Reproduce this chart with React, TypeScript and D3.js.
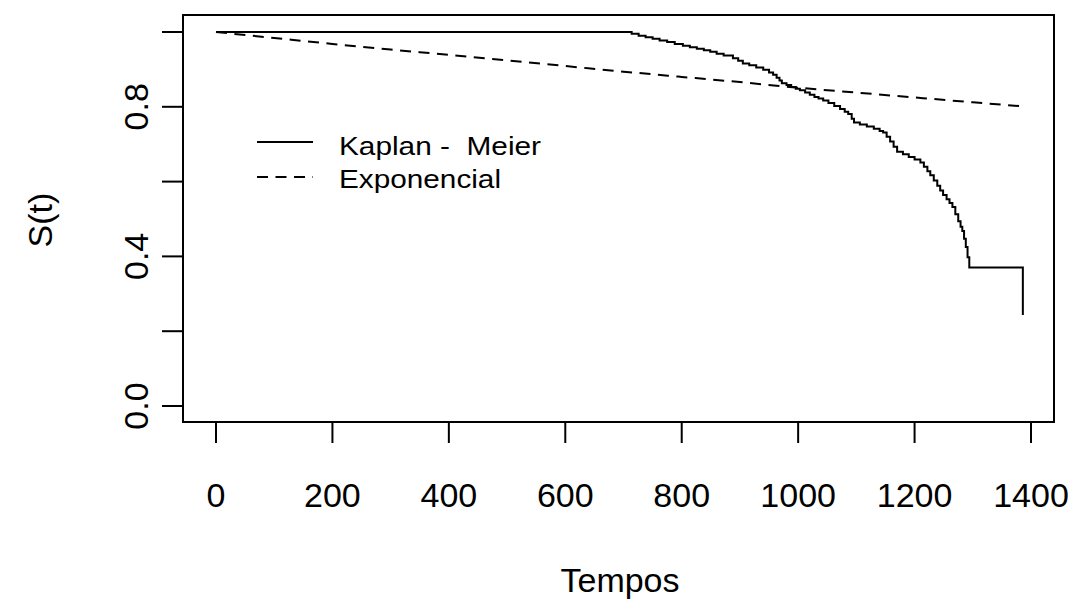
import React from "react";
import * as d3 from "d3";

const kmTimes = [0, 714, 726, 738, 750, 762, 775, 788, 802, 814, 826, 838, 849, 860, 872, 888, 897, 905, 916, 928, 940, 950, 957, 963, 968, 972, 980, 988, 996, 1003, 1012, 1020, 1028, 1035, 1043, 1052, 1062, 1072, 1080, 1086, 1092, 1096, 1106, 1118, 1130, 1140, 1146, 1152, 1158, 1164, 1170, 1180, 1190, 1200, 1210, 1216, 1222, 1227, 1233, 1239, 1244, 1249, 1255, 1260, 1265, 1270, 1275, 1279, 1282, 1285, 1288, 1291, 1294, 1386];
const kmSurv = [1.0, 0.995, 0.990, 0.986, 0.982, 0.977, 0.973, 0.968, 0.963, 0.959, 0.955, 0.951, 0.947, 0.942, 0.937, 0.930, 0.923, 0.916, 0.911, 0.905, 0.899, 0.892, 0.886, 0.878, 0.870, 0.863, 0.858, 0.853, 0.848, 0.844, 0.838, 0.832, 0.826, 0.822, 0.817, 0.810, 0.802, 0.794, 0.787, 0.781, 0.768, 0.758, 0.753, 0.747, 0.741, 0.735, 0.731, 0.720, 0.707, 0.693, 0.680, 0.673, 0.666, 0.659, 0.651, 0.640, 0.628, 0.617, 0.603, 0.589, 0.576, 0.564, 0.553, 0.543, 0.532, 0.513, 0.494, 0.479, 0.468, 0.447, 0.425, 0.398, 0.370, 0.243];

const expTimes = [0, 100, 200, 300, 400, 500, 600, 700, 800, 900, 1000, 1100, 1200, 1300, 1386];
const expSurv = [1.0, 0.984, 0.968, 0.953, 0.939, 0.924, 0.909, 0.894, 0.880, 0.866, 0.851, 0.838, 0.825, 0.812, 0.801];

const xTicks = [0, 200, 400, 600, 800, 1000, 1200, 1400];
const yTicks = [0, 0.2, 0.4, 0.6, 0.8, 1.0];
const yTickLabels = ["0.0", "", "0.4", "", "0.8", ""];
const legendLabels = ["Kaplan -  Meier", "Exponencial"];

export default function App() {
  const box = { left: 183, right: 1054, top: 15, bottom: 422 };
  const x = d3.scaleLinear().domain([0, 1400]).range([216, 1031]);
  const y = d3.scaleLinear().domain([0, 1]).range([406, 32]);

  const kmPts: [number, number][] = kmTimes.map((t, i) => [t, kmSurv[i]]);
  const kmLine = d3
    .line<[number, number]>()
    .x((d) => x(d[0]))
    .y((d) => y(d[1]))
    .curve(d3.curveStepAfter)(kmPts);

  const expPts: [number, number][] = expTimes.map((t, i) => [t, expSurv[i]]);
  const expLine = d3
    .line<[number, number]>()
    .x((d) => x(d[0]))
    .y((d) => y(d[1]))
    .curve(d3.curveMonotoneX)(expPts);

  const font = "Liberation Sans, Arial, sans-serif";
  const tickLen = 21;

  return (
    <svg
      width={1075}
      height={603}
      style={{ position: "absolute", left: 0, top: 0, background: "#fff" }}
      fontFamily={font}
    >
      <rect x={0} y={0} width={1075} height={603} fill="#fff" />
      <rect
        x={box.left}
        y={box.top}
        width={box.right - box.left}
        height={box.bottom - box.top}
        fill="none"
        stroke="#000"
        strokeWidth={2}
      />
      {/* x axis */}
      <line x1={x(0)} x2={x(1400)} y1={box.bottom} y2={box.bottom} stroke="#000" strokeWidth={2} />
      {xTicks.map((t) => (
        <g key={"xt" + t}>
          <line x1={x(t)} x2={x(t)} y1={box.bottom} y2={box.bottom + tickLen} stroke="#000" strokeWidth={2} />
          <text x={x(t)} y={507} textAnchor="middle" fontSize={34} fill="#000">
            {t}
          </text>
        </g>
      ))}
      {/* y axis */}
      {yTicks.map((v, i) => (
        <g key={"yt" + i}>
          <line x1={box.left - tickLen} x2={box.left} y1={y(v)} y2={y(v)} stroke="#000" strokeWidth={2} />
          {yTickLabels[i] && (
            <text
              transform={`translate(${148},${y(v)}) rotate(-90)`}
              textAnchor="middle"
              fontSize={34}
              fill="#000"
            >
              {yTickLabels[i]}
            </text>
          )}
        </g>
      ))}
      {/* axis titles */}
      <text x={620} y={592} textAnchor="middle" fontSize={34} fill="#000">
        Tempos
      </text>
      <text transform={`translate(${52},${220}) rotate(-90)`} textAnchor="middle" fontSize={34} fill="#000">
        S(t)
      </text>
      {/* curves */}
      <path d={expLine || ""} fill="none" stroke="#000" strokeWidth={2} strokeDasharray="11,7.5" />
      <path d={kmLine || ""} fill="none" stroke="#000" strokeWidth={2} />
      {/* legend */}
      <line x1={257} x2={313} y1={142} y2={142} stroke="#000" strokeWidth={2} />
      <line x1={257} x2={313} y1={177} y2={177} stroke="#000" strokeWidth={2} strokeDasharray="11,7.5" />
      <text
        x={339}
        y={155}
        fontSize={26}
        fill="#000"
        textLength={202}
        lengthAdjust="spacingAndGlyphs"
        style={{ whiteSpace: "pre" }}
      >
        {legendLabels[0]}
      </text>
      <text
        x={339}
        y={188}
        fontSize={26}
        fill="#000"
        textLength={162}
        lengthAdjust="spacingAndGlyphs"
      >
        {legendLabels[1]}
      </text>
    </svg>
  );
}
